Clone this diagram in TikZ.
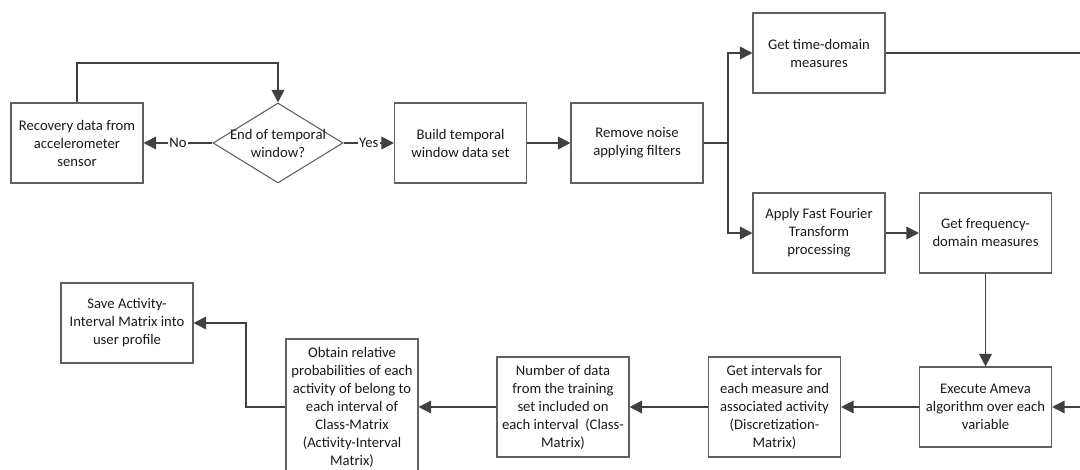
\documentclass[tikz,border=0pt]{standalone}
\usepackage{fontspec}
\setmainfont{Carlito}
\usetikzlibrary{arrows.meta,shapes.geometric,calc}
\definecolor{boxc}{HTML}{606060}
\definecolor{linec}{HTML}{404040}
\definecolor{txt}{HTML}{1A1A1A}
\tikzset{
  box/.style={draw=boxc, line width=0.8pt, rectangle, minimum width=99pt, minimum height=60pt, inner sep=2pt, align=center, font=\fontsize{11}{13.5}\selectfont, text=txt},
  arr/.style={draw=linec, line width=1.3pt, -{Triangle[length=9.5pt,width=9.5pt]}},
  ln/.style={draw=linec, line width=1.3pt},
  lbl/.style={fill=white, inner sep=1pt, font=\fontsize{11}{13.5}\selectfont, text=txt}
}
\begin{document}
\begin{tikzpicture}[x=0.75pt,y=-0.75pt]
\useasboundingbox (0,0) rectangle (1080,470);
\clip (0,0) rectangle (1080,470);
\node[box] (rec) at (77,143) {Recovery data from\\accelerometer\\sensor};
\node[diamond, draw=boxc, line width=0.8pt, minimum width=97.5pt, minimum height=60pt, inner sep=0pt] (d) at (278,143) {};
\node[font=\fontsize{11}{13.5}\selectfont, text=txt, align=center] (dt) at (278,143) {End of temporal\\window?};
\node[box] (build) at (460.5,143) {Build temporal\\window data set};
\node[box] (remove) at (637,143) {Remove noise\\applying filters};
\node[box] (time) at (819,53) {Get time-domain\\measures};
\node[box] (fft) at (819,233) {Apply Fast Fourier\\Transform\\processing};
\node[box] (freq) at (985.5,233) {Get frequency-\\domain measures};
\node[box] (ameva) at (985.5,407) {Execute Ameva\\algorithm over each\\variable};
\node[box, minimum height=75pt] (intv) at (774.5,407) {Get intervals for\\each measure and\\associated activity\\(Discretization-\\Matrix)};
\node[box, minimum height=75pt] (num) at (563,407) {Number of data\\from the training\\set included on\\each interval~~(Class-\\Matrix)};
\node[box, minimum height=102pt] (obt) at (352,407) {Obtain relative\\probabilities of each\\activity of belong to\\each interval of\\Class-Matrix\\(Activity-Interval\\Matrix)};
\node[box] (save) at (127,323) {Save Activity-\\Interval Matrix into\\user profile};
\coordinate (loop) at (77,63);
\coordinate (br) at (728,143);
\coordinate (rt) at (1100,53);
\coordinate (rb) at (1100,407);
\coordinate (up) at (246,407);
% connectors
\draw[arr] (rec.north) -- (loop) -| (d.north);
\draw[arr] (d.west) -- node[lbl] {No} (rec.east);
\draw[arr] (d.east) -- node[lbl] {Yes} (build.west);
\draw[arr] (build.east) -- (remove.west);
\draw[ln] (remove.east) -- (br);
\draw[arr] (br) |- (time.west);
\draw[arr] (br) |- (fft.west);
\draw[arr] (fft.east) -- (freq.west);
\draw[arr] (freq.south) -- (ameva.north);
\draw[ln] (time.east) -- (rt) -- (rb);
\draw[arr] (rb) -- (ameva.east);
\draw[arr] (ameva.west) -- (intv.east);
\draw[arr] (intv.west) -- (num.east);
\draw[arr] (num.west) -- (obt.east);
\draw[arr] (obt.west) -- (up) |- (save.east);
\end{tikzpicture}
\end{document}
